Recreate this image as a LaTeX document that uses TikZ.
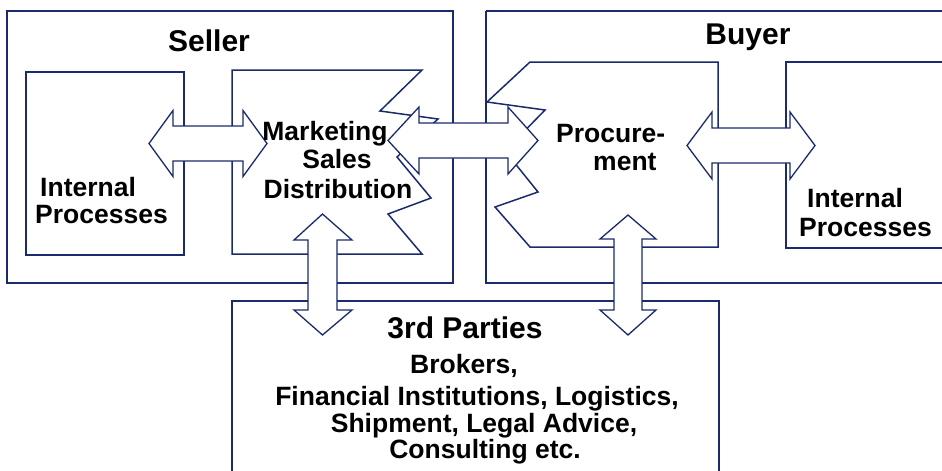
\documentclass[tikz,border=0pt]{standalone}
\usepackage{fontspec}
\setmainfont{Liberation Sans}
\definecolor{navy}{HTML}{1A2A6C}
\begin{document}
\begin{tikzpicture}[x=1pt,y=-1pt,
  box/.style={draw=navy,line width=1.5pt,line join=miter},
  arr/.style={draw=navy,fill=white,line width=1.3pt,line join=miter},
  big/.style={font=\fontsize{30}{32}\selectfont\bfseries,inner sep=0pt},
  txt/.style={font=\fontsize{26.5}{29}\selectfont\bfseries,inner sep=0pt}]
\useasboundingbox (0,0) rectangle (942,471);
\clip (0,0) rectangle (942,471);
% outer boxes
\draw[box] (7,11) rectangle (453,283);
\draw[box] (486,11) -- (950,11) (486,11) -- (486,283) -- (950,283);
\draw[box] (950,480) -- (719,480) -- (719,301) -- (232,301) -- (232,480);
% inner boxes
\draw[box] (26,72) rectangle (184,255);
\draw[box] (950,62) -- (786,62) -- (786,248) -- (950,248);
% marketing shape
\draw[box] (232,70) -- (422,70) -- (380,111) -- (438,119) -- (397,157) -- (431,198) -- (388,214) -- (422,254) -- (232,254) -- cycle;
% procurement shape
\draw[box] (530,62) -- (718,62) -- (718,247) -- (530,247) -- (495,207) -- (538,192) -- (505,151) -- (545,110) -- (487,102) -- cycle;
% horizontal double arrows
\draw[arr] (149,143.5) -- (173,110.5) -- (173,126) -- (243,126) -- (243,110.5) -- (267,143.5) -- (243,176.5) -- (243,161) -- (173,161) -- (173,176.5) -- cycle;
\draw[arr] (388,140.5) -- (419,107) -- (419,123) -- (508,123) -- (508,107) -- (538,140.5) -- (508,174) -- (508,158) -- (419,158) -- (419,174) -- cycle;
\draw[arr] (687,145.5) -- (712,112) -- (712,128) -- (790,128) -- (790,112) -- (815,145.5) -- (790,179) -- (790,163) -- (712,163) -- (712,179) -- cycle;
% vertical double arrows
\draw[arr] (322.5,214) -- (352,240) -- (337,240) -- (337,310) -- (352,310) -- (322.5,335) -- (294,310) -- (308,310) -- (308,240) -- (294,240) -- cycle;
\draw[arr] (628,215) -- (656,239) -- (642,239) -- (642,310) -- (656,310) -- (628,335) -- (600,310) -- (614,310) -- (614,239) -- (600,239) -- cycle;
% labels
\node[big,anchor=base] (seller) at (209,51) {Seller};
\node[big,anchor=base] (buyer) at (748,44) {Buyer};
\node[txt,anchor=base west] (lint) at (40,196) {Internal};
\node[txt,anchor=base west] (lproc) at (35,223) {Processes};
\node[txt,anchor=base] (mk) at (325,140) {Marketing};
\node[txt,anchor=base] (sa) at (337,168) {Sales};
\node[txt,anchor=base] (di) at (338,198) {Distribution};
\node[txt,anchor=base west] (pr1) at (556,142) {Procure-};
\node[txt,anchor=base west] (pr2) at (593,170) {ment};
\node[txt,anchor=base west] (rint) at (807,207) {Internal};
\node[txt,anchor=base west] (rproc) at (799,236) {Processes};
\node[big,anchor=base] (third) at (465,338) {3rd Parties};
\node[txt,anchor=base] (t1) at (464,373) {Brokers,};
\node[txt,anchor=base] (t2) at (477,405) {Financial Institutions, Logistics,};
\node[txt,anchor=base] (t3) at (484,432) {Shipment, Legal Advice,};
\node[txt,anchor=base] (t4) at (485,458) {Consulting etc.};
\end{tikzpicture}
\end{document}
